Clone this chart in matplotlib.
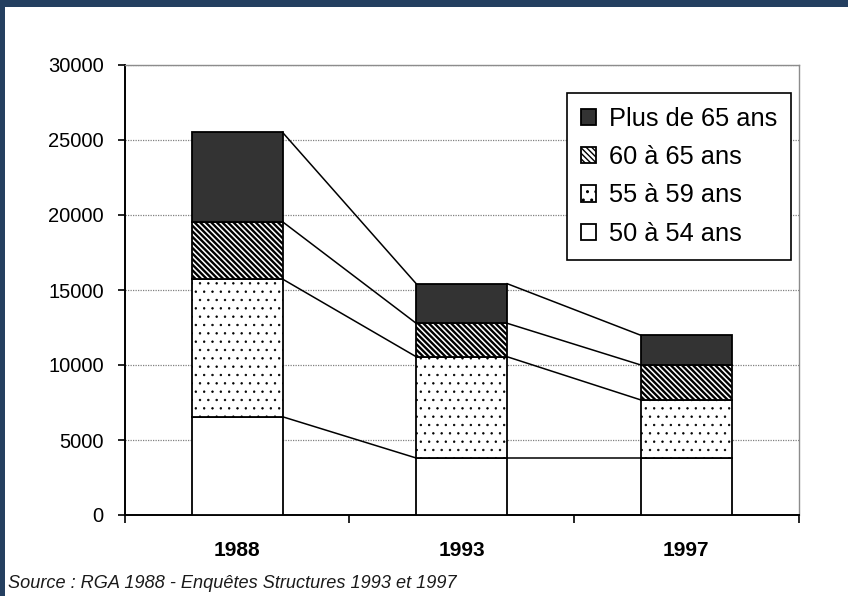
import matplotlib
matplotlib.use('Agg')
import matplotlib.pyplot as plt
from matplotlib.patches import Rectangle
import numpy as np

# ---- data ----
years = ['1988', '1993', '1997']
age_groups = ['50 à 54 ans', '55 à 59 ans', '60 à 65 ans', 'Plus de 65 ans']
v_50_54 = [6550, 3800, 3800]
v_55_59 = [9180, 6750, 3870]
v_60_65 = [3820, 2230, 2330]
v_65_plus = [5960, 2640, 1980]
y_ticks = [0, 5000, 10000, 15000, 20000, 25000, 30000]
source = 'Source : RGA 1988 - Enquêtes Structures 1993 et 1997'

plt.rcParams['font.family'] = ['Liberation Sans', 'DejaVu Sans']
plt.rcParams['hatch.color'] = 'black'

fig = plt.figure(figsize=(8.48, 5.96), dpi=100)
fig.patch.set_facecolor('white')

# navy frame (top and left)
navy = '#243f60'
fig.patches.append(Rectangle((0, 1 - 7 / 596), 1, 7 / 596, transform=fig.transFigure,
                             facecolor=navy, edgecolor='none', zorder=0))
fig.patches.append(Rectangle((0, 0), 5 / 848, 1, transform=fig.transFigure,
                             facecolor=navy, edgecolor='none', zorder=0))

ax = fig.add_axes([124.7 / 848, (596 - 515) / 596, 674 / 848, 450 / 596])

x = np.arange(len(years))
w = 0.405
series = [v_50_54, v_55_59, v_60_65, v_65_plus]
faces = ['white', 'white', 'white', '#333333']
hatches = [None, '..', '\\\\\\\\\\\\', None]
hatch_lws = [1.0, 0.5, 1.7, 1.0]
hatch_cols = ['black', '#333333', 'black', 'black']

bottom = np.zeros(len(years))
handles = []
for vals, fc, h, hlw, hc, lab in zip(series, faces, hatches, hatch_lws, hatch_cols, age_groups):
    plt.rcParams['hatch.linewidth'] = hlw
    plt.rcParams['hatch.color'] = hc
    vals = np.array(vals, dtype=float)
    b = ax.bar(x, vals, w, bottom=bottom, color=fc, edgecolor='black',
               linewidth=1.3, hatch=h, label=lab, zorder=3)
    for p in b.patches:
        if hasattr(p, 'set_hatch_linewidth'):
            p.set_hatch_linewidth(hlw)
    top = bottom + vals
    for i in range(len(years) - 1):
        ax.plot([x[i] + w / 2, x[i + 1] - w / 2], [top[i], top[i + 1]],
                color='black', lw=1.1, zorder=2)
    bottom = top
    handles.append(b)

ax.set_xlim(-0.5, len(years) - 0.5)
ax.set_ylim(0, 30000)

ax.set_yticks(y_ticks)
ax.set_yticklabels([str(t) for t in y_ticks], fontsize=14.5)
ax.tick_params(axis='y', length=5, width=1.2, direction='out', pad=10)

ax.set_xticks(x)
ax.set_xticklabels(years, fontsize=15, fontweight='bold')
ax.set_xticks(np.arange(len(years) + 1) - 0.5, minor=True)
ax.tick_params(axis='x', which='major', length=0, pad=19)
ax.tick_params(axis='x', which='minor', length=6, width=1.2, direction='out')

ax.grid(axis='y', color='#808080', linestyle=(0, (1, 1)), linewidth=0.9, zorder=0)
ax.set_axisbelow(True)

for s in ['left', 'bottom']:
    ax.spines[s].set_color('black')
    ax.spines[s].set_linewidth(1.4)
for s in ['top', 'right']:
    ax.spines[s].set_color('#8c8c8c')
    ax.spines[s].set_linewidth(1.0)

leg = ax.legend(handles[::-1], age_groups[::-1], loc='upper left',
                bbox_to_anchor=((567 - 124.7) / 674, (515 - 93) / 450),
                borderaxespad=0, fontsize=18.3, frameon=True, fancybox=False,
                framealpha=1, edgecolor='black', handlelength=0.6,
                handleheight=0.6, handletextpad=0.5, labelspacing=0.56,
                borderpad=0.55)
leg.get_frame().set_linewidth(1.2)
leg.set_zorder(5)

fig.text(8 / 848, 1 - 583 / 596, source, fontsize=13.1, style='italic',
         color='#1a1a1a', ha='left', va='center')

fig.savefig('out.png', dpi=100, facecolor='white')
